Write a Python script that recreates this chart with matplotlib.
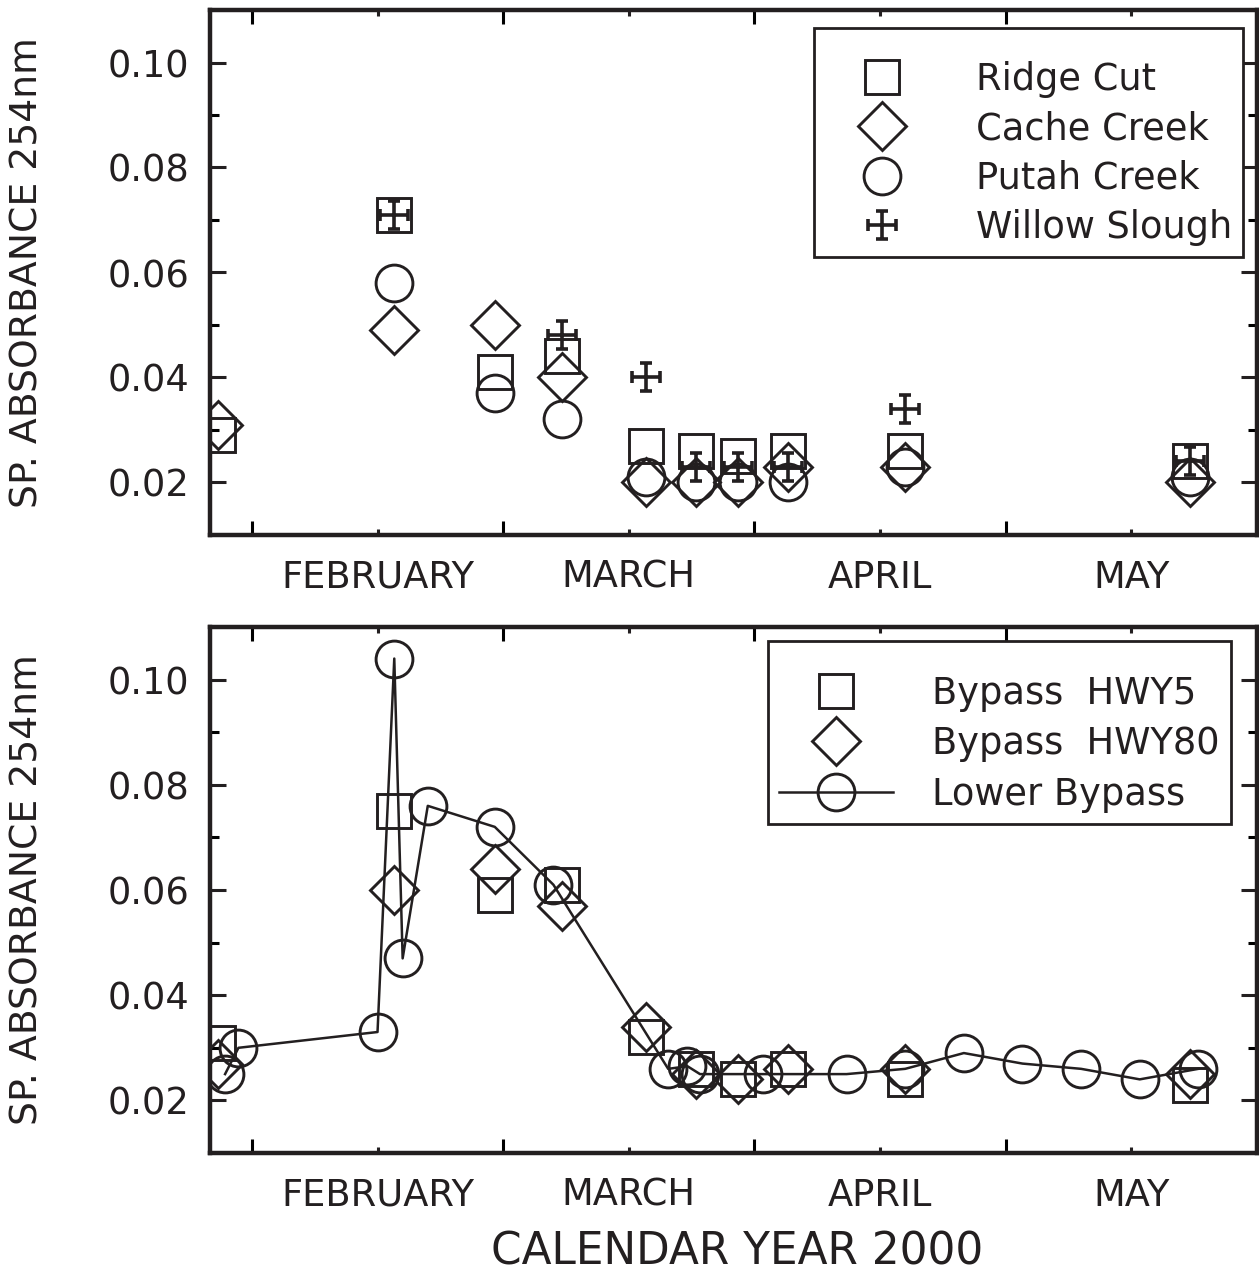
import matplotlib
matplotlib.use('Agg')
import matplotlib.pyplot as plt
from matplotlib.path import Path

# ---------------- data (x = day of year 2000) ----------------
ridge_days = [26, 47, 59, 67, 77, 83, 88, 94, 108, 142]
ridge_vals = [0.029, 0.071, 0.041, 0.044, 0.027, 0.026, 0.025, 0.026, 0.026, 0.024]
cache_days = [26, 47, 59, 67, 77, 83, 88, 94, 108, 142]
cache_vals = [0.031, 0.049, 0.050, 0.040, 0.020, 0.020, 0.020, 0.023, 0.023, 0.020]
putah_days = [47, 59, 67, 77, 83, 88, 94, 108, 142]
putah_vals = [0.058, 0.037, 0.032, 0.021, 0.020, 0.020, 0.020, 0.023, 0.021]
willow_days = [47, 67, 77, 83, 88, 94, 108, 142]
willow_vals = [0.071, 0.048, 0.040, 0.023, 0.023, 0.023, 0.034, 0.024]

hwy5_days = [26, 47, 59, 67, 77, 83, 88, 94, 108, 142]
hwy5_vals = [0.031, 0.075, 0.059, 0.061, 0.032, 0.026, 0.024, 0.026, 0.024, 0.023]
hwy80_days = [26, 47, 59, 67, 77, 83, 88, 94, 108, 142]
hwy80_vals = [0.027, 0.060, 0.064, 0.057, 0.034, 0.025, 0.024, 0.026, 0.026, 0.025]
lower_days = [26.8, 28.4, 45, 47, 48, 51, 59, 66, 79.7, 82, 83.5, 91, 101, 108,
              115, 122, 129, 136, 143]
lower_vals = [0.025, 0.030, 0.033, 0.104, 0.047, 0.076, 0.072, 0.061, 0.026, 0.0265,
              0.025, 0.025, 0.025, 0.026, 0.029, 0.027, 0.026, 0.024, 0.026]

month_ticks = [45, 75, 105, 135]
month_labels = ['FEBRUARY', 'MARCH', 'APRIL', 'MAY']
month_edges = [30, 60, 90, 120]

top_labels = ['Ridge Cut', 'Cache Creek', 'Putah Creek', 'Willow Slough']
bottom_labels = ['Bypass  HWY5', 'Bypass  HWY80', 'Lower Bypass']

# ---------------- style ----------------
INK = '#231f20'
FS = 26.5
plt.rcParams['font.family'] = ['DejaVu Sans']
plt.rcParams['text.color'] = INK

c = 0.43
cross_path = Path(
    [(-1, 0), (1, 0), (0, -1), (0, 1),
     (-1, -c), (-1, c), (1, -c), (1, c),
     (-c, 1), (c, 1), (-c, -1), (c, -1)],
    [Path.MOVETO, Path.LINETO] * 6)

sq = dict(marker='s', ms=25, mfc='none', mec=INK, mew=2.1, ls='none')
di = dict(marker='D', ms=24.5, mfc='none', mec=INK, mew=2.1, ls='none')
ci = dict(marker='o', ms=26.5, mfc='none', mec=INK, mew=2.1, ls='none')
cr = dict(marker=cross_path, ms=20, mfc='none', mec=INK, mew=2.6, ls='none')

W, H = 1259, 1273
fig = plt.figure(figsize=(W / 100, H / 100), dpi=100)
ax1 = fig.add_axes([210 / W, 1 - 535 / H, 1047 / W, 525 / H])
ax2 = fig.add_axes([210 / W, 1 - 1153 / H, 1047 / W, 526 / H])


def style_axis(ax):
    ax.set_xlim(25, 150)
    ax.set_ylim(0.01, 0.11)
    for s in ax.spines.values():
        s.set_linewidth(3.2)
        s.set_color(INK)
    ax.set_xticks(month_ticks)
    ax.set_xticklabels(month_labels)
    ax.set_xticks(month_edges, minor=True)
    ax.set_yticks([0.02, 0.04, 0.06, 0.08, 0.10])
    ax.set_yticklabels(['0.02', '0.04', '0.06', '0.08', '0.10'])
    ax.set_yticks([0.03, 0.05, 0.07, 0.09], minor=True)
    ax.tick_params(axis='x', which='major', direction='in', length=4.5, width=2.2,
                   top=True, bottom=True, labelsize=FS, pad=17, colors=INK)
    ax.tick_params(axis='x', which='minor', direction='in', length=10, width=2.2,
                   top=True, bottom=True)
    ax.tick_params(axis='y', which='major', direction='in', length=11.5, width=2.2,
                   left=True, right=True, labelsize=FS, pad=15, colors=INK)
    ax.tick_params(axis='y', which='minor', direction='in', length=6.5, width=2.2,
                   left=True, right=True)
    for t in ax.get_xticklines(minor=True) + ax.get_yticklines(minor=True):
        t.set_color(INK)
    ax.set_ylabel('SP. ABSORBANCE 254nm', fontsize=27.2, color=INK)
    ax.yaxis.set_label_coords(-0.157, 0.5)


# ---------------- top panel ----------------
style_axis(ax1)
ax1.plot(ridge_days, ridge_vals, label=top_labels[0], **sq)
ax1.plot(cache_days, cache_vals, label=top_labels[1], **di)
ax1.plot(putah_days, putah_vals, label=top_labels[2], **ci)
ax1.plot(willow_days, willow_vals, label=top_labels[3], **cr)

leg1 = ax1.legend(loc='upper right', bbox_to_anchor=(0.9866, 0.9657), borderaxespad=0,
                  fontsize=FS, fancybox=False, framealpha=1, edgecolor=INK,
                  borderpad=0.3, handlelength=3.1, handletextpad=1.0,
                  labelspacing=0.33, title=' ', title_fontsize=7.5)
leg1.get_frame().set_linewidth(2.0)

# ---------------- bottom panel ----------------
style_axis(ax2)
ax2.plot(hwy5_days, hwy5_vals, label=bottom_labels[0], **sq)
ax2.plot(hwy80_days, hwy80_vals, label=bottom_labels[1], **di)
ax2.plot(lower_days, lower_vals, label=bottom_labels[2], marker='o', ms=26.5, mfc='none',
         mec=INK, mew=2.1, color=INK, lw=1.8)

leg2 = ax2.legend(loc='upper right', bbox_to_anchor=(0.9749, 0.9734), borderaxespad=0,
                  fontsize=FS, fancybox=False, framealpha=1, edgecolor=INK,
                  borderpad=0.3, handlelength=3.1, handletextpad=1.05,
                  labelspacing=0.37, title=' ', title_fontsize=6)
leg2.get_frame().set_linewidth(2.0)

ax2.set_xlabel('CALENDAR YEAR 2000', fontsize=31.5, color=INK)
ax2.xaxis.set_label_coords(0.503, -0.148)

fig.savefig('out.png', dpi=100)
